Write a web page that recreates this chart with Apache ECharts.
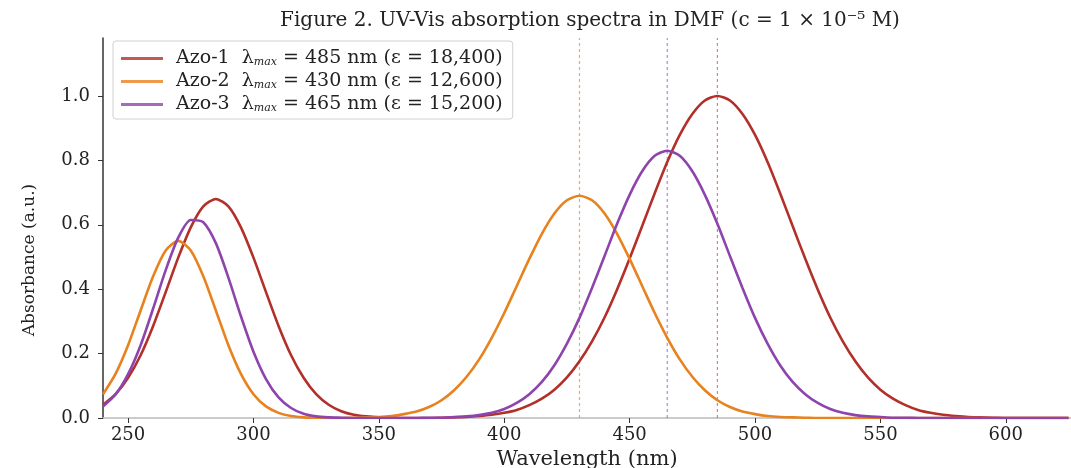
<!DOCTYPE html>
<html>
<head>
<meta charset="utf-8">
<script src="https://cdn.jsdelivr.net/npm/echarts@6/dist/echarts.min.js"></script>
<style>
  html, body { margin: 0; padding: 0; background: #fff; }
  #chart { width: 1071px; height: 468px; }
</style>
</head>
<body>
<div id="chart"></div>
<script>
// wavelength grid (nm)
const wavelengths = [
  240, 245, 250, 255, 260, 265, 270, 275, 280, 285, 290, 295, 300, 305, 310, 315,
  320, 325, 330, 335, 340, 345, 350, 355, 360, 365, 370, 375, 380, 385, 390, 395,
  400, 405, 410, 415, 420, 425, 430, 435, 440, 445, 450, 455, 460, 465, 470, 475,
  480, 485, 490, 495, 500, 505, 510, 515, 520, 525, 530, 535, 540, 545, 550, 555,
  560, 565, 570, 575, 580, 585, 590, 595, 600, 605, 610, 615, 620, 625
];

// absorbance
const azo1 = [
  0.041, 0.074, 0.125, 0.195, 0.286, 0.391, 0.498, 0.592, 0.657, 0.680, 0.657, 0.592, 0.498, 0.391, 0.286, 0.195,
  0.125, 0.074, 0.041, 0.021, 0.010, 0.005, 0.002, 0.001, 0, 0, 0, 0.001, 0.002, 0.003, 0.006, 0.010,
  0.016, 0.025, 0.040, 0.060, 0.088, 0.126, 0.176, 0.238, 0.312, 0.399, 0.495, 0.596, 0.698, 0.795, 0.879, 0.944,
  0.986, 1.000, 0.986, 0.944, 0.879, 0.795, 0.698, 0.596, 0.495, 0.399, 0.312, 0.238, 0.176, 0.126, 0.088, 0.060,
  0.040, 0.025, 0.016, 0.010, 0.006, 0.003, 0.002, 0.001, 0, 0, 0, 0, 0, 0
];
const azo2 = [
  0.074, 0.137, 0.226, 0.334, 0.440, 0.520, 0.550, 0.520, 0.440, 0.334, 0.226, 0.137, 0.074, 0.036, 0.016, 0.006,
  0.002, 0.001, 0, 0, 0.001, 0.002, 0.003, 0.006, 0.012, 0.020, 0.034, 0.055, 0.086, 0.128, 0.182, 0.249,
  0.326, 0.410, 0.494, 0.572, 0.635, 0.676, 0.690, 0.676, 0.635, 0.572, 0.494, 0.410, 0.326, 0.249, 0.182, 0.128,
  0.086, 0.055, 0.034, 0.020, 0.012, 0.006, 0.003, 0.002, 0.001, 0, 0, 0, 0, 0, 0, 0,
  0, 0, 0, 0, 0, 0, 0, 0, 0, 0, 0, 0, 0, 0
];
const azo3 = [
  0.036, 0.073, 0.136, 0.226, 0.340, 0.459, 0.560, 0.615, 0.608, 0.543, 0.436, 0.316, 0.206, 0.121, 0.064, 0.031,
  0.013, 0.005, 0.002, 0.001, 0, 0, 0, 0, 0, 0, 0.001, 0.001, 0.003, 0.005, 0.009, 0.016,
  0.028, 0.047, 0.074, 0.112, 0.164, 0.231, 0.311, 0.404, 0.503, 0.603, 0.693, 0.766, 0.814, 0.830, 0.814, 0.766,
  0.693, 0.603, 0.503, 0.404, 0.311, 0.231, 0.164, 0.112, 0.074, 0.047, 0.028, 0.016, 0.009, 0.005, 0.003, 0.001,
  0.001, 0, 0, 0, 0, 0, 0, 0, 0, 0, 0, 0, 0, 0
];

const names = ["Azo-1", "Azo-2", "Azo-3"];
const lambdaMax = [485, 430, 465];
const epsilons = ["18,400", "12,600", "15,200"];
const colors = ["#b3302a", "#e8821e", "#8e44ad"];
const dashColors = ["#e2543e", "#f08a2a", "#9a5ce0"];
const xTicks = [250, 300, 350, 400, 450, 500, 550, 600];
const yTicks = [0, 0.2, 0.4, 0.6, 0.8, 1.0];
const yMax = 1.18;

const font = "DejaVu Serif";
const allData = [azo1, azo2, azo3];

const chart = echarts.init(document.getElementById("chart"));

const curves = names.map((name, i) => ({
  name: name,
  type: "line",
  data: wavelengths.map((w, j) => [w, allData[i][j]]),
  smooth: 0.25,
  symbol: "none",
  lineStyle: { color: colors[i], width: 2.6 },
  itemStyle: { color: colors[i] },
  z: 3,
}));

// dashed lambda-max guides
const guides = names.map((name, i) => ({
  name: name + " λmax",
  type: "line",
  data: [[lambdaMax[i], 0], [lambdaMax[i], yMax]],
  symbol: "none",
  silent: true,
  lineStyle: { color: dashColors[i], type: [3, 3], width: 1.2, opacity: 0.75 },
  z: 2,
}));

chart.setOption({
  animation: false,
  backgroundColor: "#fff",
  title: {
    text: "Figure 2. UV-Vis absorption spectra in DMF (c = 1 × 10⁻⁵ M)",
    left: 585,
    textAlign: "center",
    top: 6,
    textStyle: { fontFamily: font, fontSize: 20, fontWeight: "normal", color: "#222" },
  },
  legend: {
    orient: "vertical",
    left: 113,
    top: 41,
    icon: "rect",
    itemWidth: 42,
    itemHeight: 3,
    itemGap: 4,
    padding: [8, 10, 5, 8],
    borderColor: "#d0d0d0",
    borderWidth: 1,
    borderRadius: 3,
    data: names.map((n, i) => ({ name: n, itemStyle: { color: colors[i], opacity: 0.8 } })),
    formatter: (name) => {
      const i = names.indexOf(name);
      return name + "  λ{sub|max} = " + lambdaMax[i] + " nm (ε = " + epsilons[i] + ")";
    },
    textStyle: {
      fontFamily: font,
      fontSize: 19,
      lineHeight: 18,
      color: "#222",
      padding: [0, 0, 0, 8],
      rich: {
        sub: { fontFamily: font, fontSize: 11, fontStyle: "italic", verticalAlign: "bottom", padding: [8, 0, 0, 0] },
      },
    },
  },
  grid: { left: 103, right: 0, top: 38, bottom: 50, outerBoundsMode: "none", containLabel: false },
  xAxis: {
    type: "value",
    min: 240,
    max: 626,
    name: "Wavelength (nm)",
    nameLocation: "middle",
    nameGap: 30,
    nameTextStyle: { fontFamily: font, fontSize: 21, color: "#222" },
    splitLine: { show: false },
    axisLine: { lineStyle: { color: "#bbb", width: 1.5 } },
    axisTick: { customValues: xTicks, length: 5, lineStyle: { color: "#333" } },
    axisLabel: { customValues: xTicks, fontFamily: font, fontSize: 18, color: "#222", margin: 8 },
  },
  yAxis: {
    type: "value",
    min: 0,
    max: yMax,
    name: "Absorbance (a.u.)",
    nameLocation: "middle",
    nameGap: 65,
    nameTextStyle: { fontFamily: font, fontSize: 17, color: "#222", padding: [0, 64, 0, 0] },
    splitLine: { show: false },
    axisLine: { show: true, lineStyle: { color: "#333", width: 1.5 } },
    axisTick: { show: true, customValues: yTicks, length: 5, lineStyle: { color: "#333" } },
    axisLabel: {
      customValues: yTicks,
      fontFamily: font,
      fontSize: 18,
      color: "#222",
      margin: 13,
      formatter: (v) => v.toFixed(1),
    },
  },
  series: guides.concat(curves),
});
</script>
</body>
</html>
